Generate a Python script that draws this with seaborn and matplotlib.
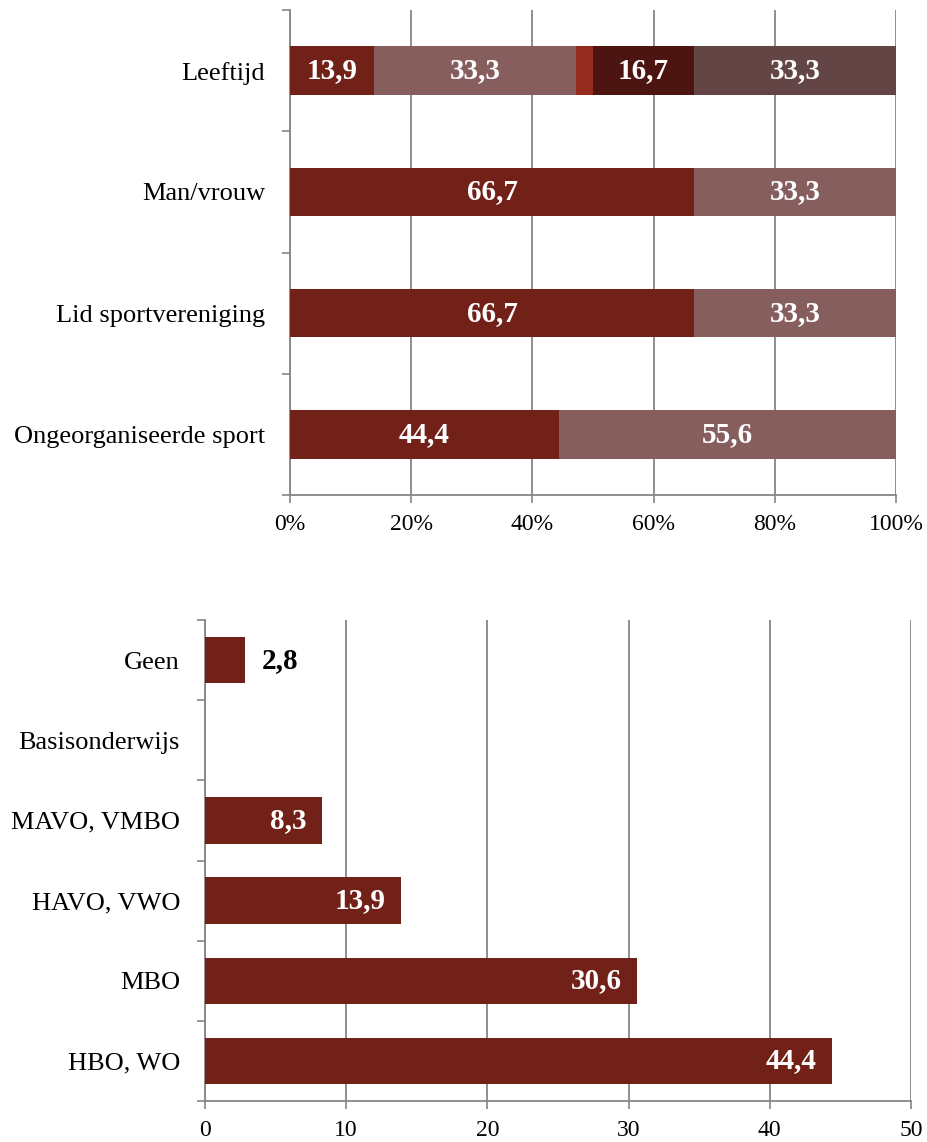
import matplotlib
matplotlib.use("Agg")
import matplotlib.pyplot as plt
import seaborn as sns
import numpy as np
import pandas as pd
from matplotlib.ticker import FixedLocator, FuncFormatter

sns.set_theme(style="white")
plt.rcParams['font.family'] = ['Liberation Serif', 'DejaVu Serif']

# ---- data top chart ----
top_categories = ["Leeftijd", "Man/vrouw", "Lid sportvereniging", "Ongeorganiseerde sport"]
seg1 = [13.9, 66.7, 66.7, 44.4]
seg2 = [33.3, 33.3, 33.3, 55.6]
seg3 = [2.8, 0, 0, 0]
seg4 = [16.7, 0, 0, 0]
seg5 = [33.3, 0, 0, 0]
top_segments = [seg1, seg2, seg3, seg4, seg5]
seg_colors = ["#722119", "#875E5E", "#952A1E", "#4C1512", "#634545"]
seg_show_label = [True, True, False, True, True]

# ---- data bottom chart ----
edu_categories = ["Geen", "Basisonderwijs", "MAVO, VMBO", "HAVO, VWO", "MBO", "HBO, WO"]
edu_values = [2.8, 0, 8.3, 13.9, 30.6, 44.4]
edu_labels = ["2,8", "", "8,3", "13,9", "30,6", "44,4"]

fig = plt.figure(figsize=(9.27, 11.42), dpi=100)
W, H = 927, 1142

grid_c = "#868686"
LBL = 19
TICK_X = 17
VAL = 21

def fmt(v):
    return f"{v:.1f}".replace(".", ",")

def style_axes(ax, ncat):
    ax.yaxis.set_minor_locator(FixedLocator(np.arange(-0.5, ncat, 1)))
    ax.tick_params(axis="y", which="major", length=0, pad=18, labelsize=LBL, labelcolor="black")
    ax.tick_params(axis="y", which="minor", length=6, color=grid_c, width=1.2, left=True)
    ax.tick_params(axis="x", which="major", length=6, color=grid_c, width=1.2, bottom=True,
                   labelsize=TICK_X, pad=8, labelcolor="black")
    ax.grid(axis="x", color=grid_c, linewidth=1.3, zorder=0)
    for s in ["top", "right"]:
        ax.spines[s].set_visible(False)
    for s in ["left", "bottom"]:
        ax.spines[s].set_color(grid_c)
        ax.spines[s].set_linewidth(1.3)
    ax.set_xlabel("")
    ax.set_ylabel("")

# ---------- top ----------
ax1 = fig.add_axes([290 / W, 1 - 495 / H, (896 - 290) / W, (495 - 10) / H])
ypos = np.arange(len(top_categories))
left = np.zeros(len(top_categories))
for vals, col, show in zip(top_segments, seg_colors, seg_show_label):
    vals = np.array(vals)
    ax1.barh(ypos, vals, left=left, height=0.4, color=col, edgecolor="none", zorder=3)
    if show:
        for y, v, l in zip(ypos, vals, left):
            if v > 0:
                ax1.text(l + v / 2, y, fmt(v), ha="center", va="center", color="white",
                         fontsize=VAL, fontweight="bold", zorder=4)
    left = left + vals

ax1.set_xlim(0, 100)
ax1.set_ylim(len(top_categories) - 0.5, -0.5)
ax1.xaxis.set_major_locator(FixedLocator([0, 20, 40, 60, 80, 100]))
ax1.xaxis.set_major_formatter(FuncFormatter(lambda x, p: f"{int(x)}%"))
ax1.set_yticks(ypos)
ax1.set_yticklabels(top_categories)
style_axes(ax1, len(top_categories))

# ---------- bottom ----------
ax2 = fig.add_axes([205 / W, 1 - 1101 / H, (911 - 205) / W, (1101 - 620) / H])
df = pd.DataFrame({"cat": edu_categories, "val": edu_values})
sns.barplot(data=df, x="val", y="cat", order=edu_categories, color="#722119",
            saturation=1, width=0.58, ax=ax2, zorder=3, edgecolor="none")
ax2.set_xlim(0, 50)
ax2.set_ylim(len(edu_categories) - 0.5, -0.5)
ax2.xaxis.set_major_locator(FixedLocator([0, 10, 20, 30, 40, 50]))
style_axes(ax2, len(edu_categories))

for i, (v, lab) in enumerate(zip(edu_values, edu_labels)):
    if not lab:
        continue
    if v < 5:
        ax2.text(v + 1.2, i, lab, ha="left", va="center", color="black",
                 fontsize=VAL, fontweight="bold", zorder=4)
    else:
        ax2.text(v - 1.1, i, lab, ha="right", va="center", color="white",
                 fontsize=VAL, fontweight="bold", zorder=4)

fig.savefig("out.png", dpi=100, facecolor="white")
